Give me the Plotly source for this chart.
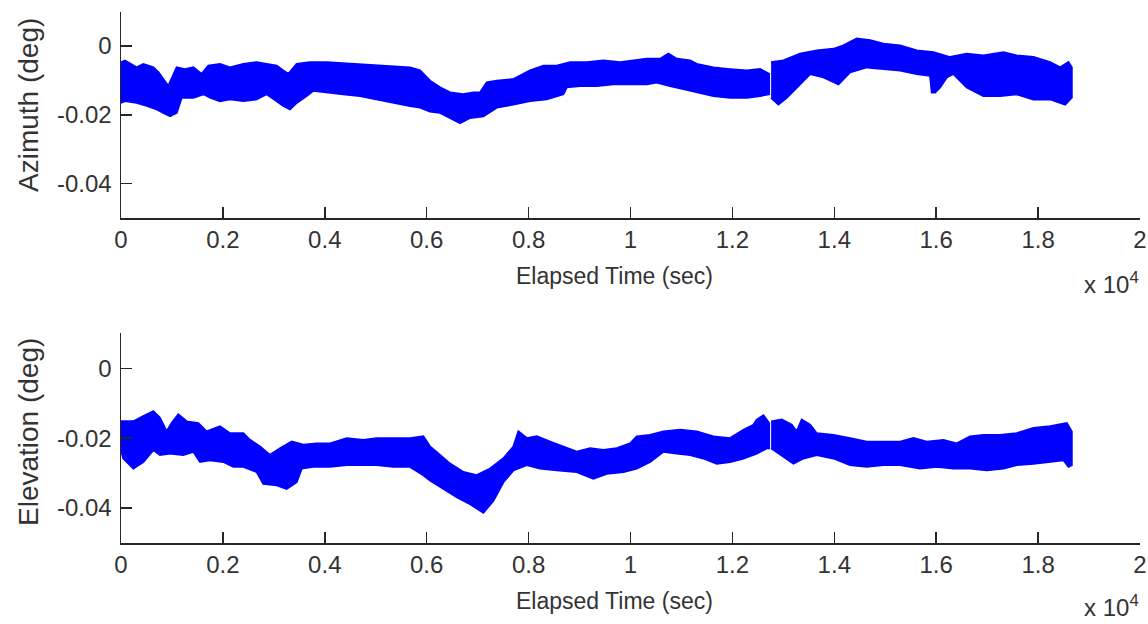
import plotly.graph_objects as go

# ---------------- data ----------------
# time in seconds, angles in degrees; the signal is a dense oscillation,
# represented by its upper and lower envelope
GAP_START = 12720
GAP_END = 12760

az_up_t = [0, 78, 307, 438, 635, 733, 929, 1093, 1256, 1420, 1583, 1714, 1943, 2139, 2401,
           2663, 2859, 3056, 3186, 3285, 3448, 3710, 4037, 4364, 4691, 5018, 5346, 5673, 5869,
           6065, 6262, 6459, 6720, 6917, 7047, 7178, 7375, 7702, 8029, 8291, 8552, 8814, 9141,
           9468, 9796, 10123, 10319, 10581, 10744, 10908, 11170, 11300, 11628, 11955, 12282,
           12543, 12720, 12760, 13001, 13328, 13656, 13983, 14179, 14441, 14702, 14964, 15291,
           15619, 15946, 16273, 16600, 16927, 17320, 17581, 17909, 18236, 18432, 18596, 18660]
az_up = [-0.0047, -0.0042, -0.0062, -0.0052, -0.0062, -0.0076, -0.0116, -0.0062, -0.0067,
         -0.0062, -0.0081, -0.0057, -0.0052, -0.0062, -0.0052, -0.0047, -0.0052, -0.0057,
         -0.0071, -0.0081, -0.0052, -0.0047, -0.0047, -0.0050, -0.0052, -0.0057, -0.0060,
         -0.0062, -0.0071, -0.0101, -0.0120, -0.0135, -0.0140, -0.0135, -0.0135, -0.0106,
         -0.0101, -0.0096, -0.0071, -0.0057, -0.0057, -0.0047, -0.0047, -0.0042, -0.0047,
         -0.0042, -0.0037, -0.0037, -0.0022, -0.0037, -0.0042, -0.0052, -0.0062, -0.0067,
         -0.0071, -0.0067, -0.0081, -0.0047, -0.0042, -0.0022, -0.0013, -0.0008, 0.0002,
         0.0022, 0.0017, 0.0007, 0.0002, -0.0013, -0.0018, -0.0032, -0.0022, -0.0027, -0.0018,
         -0.0027, -0.0032, -0.0047, -0.0062, -0.0047, -0.0062]

az_lo_t = [0, 78, 307, 504, 700, 831, 962, 1093, 1191, 1420, 1616, 1747, 1943, 2139, 2401,
           2663, 2859, 3056, 3186, 3317, 3448, 3644, 3775, 4037, 4364, 4691, 5018, 5346, 5673,
           5869, 6065, 6262, 6459, 6655, 6851, 7113, 7375, 7702, 8029, 8356, 8683, 8749, 9010,
           9338, 9665, 9992, 10319, 10515, 10777, 11039, 11300, 11628, 11955, 12282, 12543,
           12720, 12760, 12903, 13067, 13328, 13525, 13786, 14081, 14310, 14637, 14964, 15291,
           15619, 15880, 15913, 15978, 16077, 16207, 16338, 16600, 16927, 17254, 17581, 17909,
           18236, 18531, 18629, 18660]
az_lo = [-0.0165, -0.0160, -0.0165, -0.0174, -0.0184, -0.0194, -0.0204, -0.0194, -0.0150,
         -0.0150, -0.0140, -0.0150, -0.0160, -0.0155, -0.0160, -0.0155, -0.0140, -0.0160,
         -0.0174, -0.0184, -0.0165, -0.0145, -0.0130, -0.0135, -0.0140, -0.0145, -0.0155,
         -0.0165, -0.0174, -0.0179, -0.0190, -0.0194, -0.0209, -0.0224, -0.0209, -0.0204,
         -0.0179, -0.0170, -0.0160, -0.0155, -0.0140, -0.0120, -0.0116, -0.0116, -0.0111,
         -0.0111, -0.0111, -0.0106, -0.0116, -0.0125, -0.0135, -0.0145, -0.0150, -0.0150,
         -0.0145, -0.0140, -0.0150, -0.0170, -0.0150, -0.0111, -0.0081, -0.0091, -0.0111,
         -0.0076, -0.0062, -0.0067, -0.0071, -0.0081, -0.0086, -0.0135, -0.0135, -0.0120,
         -0.0091, -0.0081, -0.0120, -0.0145, -0.0145, -0.0140, -0.0155, -0.0155, -0.0170,
         -0.0155, -0.0150]

el_up_t = [0, 46, 242, 438, 635, 765, 896, 994, 1125, 1289, 1518, 1681, 1943, 2139, 2401,
           2532, 2728, 2925, 3121, 3350, 3579, 3841, 4102, 4430, 4757, 5018, 5346, 5673, 5934,
           6065, 6262, 6459, 6720, 6982, 7244, 7505, 7702, 7800, 7963, 8160, 8422, 8683, 8945,
           9207, 9468, 9730, 9992, 10123, 10384, 10646, 10973, 11300, 11628, 11955, 12216,
           12413, 12478, 12609, 12720, 12760, 12969, 13165, 13263, 13361, 13525, 13656, 13983,
           14310, 14637, 14964, 15291, 15553, 15815, 16142, 16404, 16665, 16927, 17254, 17581,
           17909, 18236, 18563, 18660]
el_up = [-0.0152, -0.0152, -0.0152, -0.0137, -0.0123, -0.0142, -0.0181, -0.0157, -0.0132,
         -0.0152, -0.0157, -0.0181, -0.0166, -0.0186, -0.0186, -0.0205, -0.0224, -0.0248,
         -0.0229, -0.0210, -0.0219, -0.0215, -0.0215, -0.0200, -0.0205, -0.0200, -0.0200,
         -0.0200, -0.0195, -0.0224, -0.0248, -0.0273, -0.0297, -0.0306, -0.0287, -0.0258,
         -0.0224, -0.0181, -0.0200, -0.0195, -0.0210, -0.0224, -0.0239, -0.0229, -0.0234,
         -0.0229, -0.0215, -0.0195, -0.0191, -0.0181, -0.0176, -0.0181, -0.0195, -0.0200,
         -0.0176, -0.0162, -0.0147, -0.0135, -0.0157, -0.0152, -0.0147, -0.0162, -0.0181,
         -0.0147, -0.0162, -0.0186, -0.0191, -0.0200, -0.0210, -0.0210, -0.0210, -0.0200,
         -0.0210, -0.0205, -0.0215, -0.0195, -0.0191, -0.0191, -0.0186, -0.0171, -0.0166,
         -0.0157, -0.0181]

el_lo_t = [0, 46, 242, 438, 635, 765, 962, 1223, 1420, 1551, 1747, 2009, 2205, 2401, 2663,
           2794, 3056, 3252, 3448, 3546, 3775, 4102, 4430, 4757, 5018, 5346, 5673, 5934, 6065,
           6328, 6589, 6851, 7113, 7309, 7505, 7702, 7963, 8225, 8552, 8945, 9272, 9534, 9861,
           10123, 10384, 10646, 10908, 11170, 11431, 11693, 11955, 12216, 12478, 12674, 12720,
           12760, 13001, 13198, 13394, 13656, 13983, 14310, 14637, 14964, 15291, 15684, 16011,
           16338, 16665, 16992, 17320, 17581, 17909, 18236, 18498, 18596, 18660]
el_lo = [-0.0234, -0.0258, -0.0287, -0.0268, -0.0234, -0.0248, -0.0244, -0.0248, -0.0239,
         -0.0268, -0.0263, -0.0268, -0.0282, -0.0282, -0.0297, -0.0331, -0.0335, -0.0345,
         -0.0326, -0.0287, -0.0282, -0.0282, -0.0277, -0.0277, -0.0277, -0.0282, -0.0282,
         -0.0306, -0.0321, -0.0345, -0.0369, -0.0389, -0.0413, -0.0379, -0.0326, -0.0292,
         -0.0277, -0.0287, -0.0292, -0.0297, -0.0316, -0.0302, -0.0297, -0.0287, -0.0268,
         -0.0239, -0.0244, -0.0248, -0.0258, -0.0273, -0.0268, -0.0258, -0.0244, -0.0229,
         -0.0229, -0.0229, -0.0253, -0.0273, -0.0258, -0.0248, -0.0258, -0.0277, -0.0282,
         -0.0277, -0.0277, -0.0287, -0.0282, -0.0287, -0.0287, -0.0292, -0.0287, -0.0277,
         -0.0273, -0.0268, -0.0263, -0.0282, -0.0277]

x_tickvals = [0, 2000, 4000, 6000, 8000, 10000, 12000, 14000, 16000, 18000, 20000]
x_ticktext = ["0", "0.2", "0.4", "0.6", "0.8", "1", "1.2", "1.4", "1.6", "1.8", "2"]
y_tickvals = [0, -0.02, -0.04]
y_ticktext = ["0", "-0.02", "-0.04"]

# ---------------- figure ----------------
W, H = 1148, 624
BLUE = "#0000FF"
AX = "#262626"
TXT = "#333333"
FONT = "Liberation Sans, Arial, sans-serif"


def band(ut, uv, lt, lv, xa, ya):
    traces = []
    for keep in (lambda t: t <= GAP_START, lambda t: t >= GAP_END):
        u = [(t, v) for t, v in zip(ut, uv) if keep(t)]
        l = [(t, v) for t, v in zip(lt, lv) if keep(t)]
        xs = [p[0] for p in u] + [p[0] for p in reversed(l)]
        ys = [p[1] for p in u] + [p[1] for p in reversed(l)]
        traces.append(go.Scatter(x=xs, y=ys, mode="lines", fill="toself",
                                 fillcolor=BLUE, line=dict(color=BLUE, width=2),
                                 xaxis=xa, yaxis=ya, showlegend=False, hoverinfo="skip"))
    return traces


fig = go.Figure()
for tr in band(az_up_t, az_up, az_lo_t, az_lo, "x", "y"):
    fig.add_trace(tr)
for tr in band(el_up_t, el_up, el_lo_t, el_lo, "x2", "y2"):
    fig.add_trace(tr)

xdom = [121 / W, 1140 / W]
top_dom = [1 - 218 / H, 1 - 11.7 / H]
bot_dom = [1 - 543 / H, 1 - 333.3 / H]

xcommon = dict(range=[0, 20000], tickvals=x_tickvals, ticktext=x_ticktext,
               showline=True, linecolor=AX, linewidth=1.5, ticks="inside", ticklen=11,
               tickwidth=1.5, tickcolor=AX, showgrid=False, zeroline=False, mirror=False,
               tickfont=dict(family=FONT, size=24, color=TXT), automargin=False,
               ticklabelstandoff=0)
ycommon = dict(range=[-0.05, 0.01], tickvals=y_tickvals, ticktext=y_ticktext,
               showline=True, linecolor=AX, linewidth=1.5, ticks="inside", ticklen=11,
               tickwidth=1.5, tickcolor=AX, showgrid=False, zeroline=False, mirror=False,
               tickfont=dict(family=FONT, size=24, color=TXT), automargin=False,
               ticklabelstandoff=3)

fig.update_layout(
    width=W, height=H, template="none",
    paper_bgcolor="white", plot_bgcolor="white",
    margin=dict(l=0, r=0, t=0, b=0),
    showlegend=False,
    xaxis=dict(domain=xdom, anchor="y", **xcommon),
    yaxis=dict(domain=top_dom, anchor="x", **ycommon),
    xaxis2=dict(domain=xdom, anchor="y2", **xcommon),
    yaxis2=dict(domain=bot_dom, anchor="x2", **ycommon),
)

ann = []
for yc, ylab, xl_y, exp_y in ((105, "Azimuth (deg)", 276, 283),
                              (432, "Elevation (deg)", 601, 606)):
    ann.append(dict(text=ylab, x=28 / W, y=1 - yc / H, xref="paper", yref="paper",
                    textangle=-90, showarrow=False, xanchor="center", yanchor="middle",
                    font=dict(family=FONT, size=28, color=TXT)))
    ann.append(dict(text="Elapsed Time (sec)", x=614 / W, y=1 - xl_y / H, xref="paper",
                    yref="paper", showarrow=False, xanchor="center", yanchor="middle",
                    font=dict(family=FONT, size=23, color=TXT)))
    ann.append(dict(text="x 10<sup>4</sup>", x=1141 / W, y=1 - exp_y / H, xref="paper",
                    yref="paper", showarrow=False, xanchor="right", yanchor="middle",
                    font=dict(family=FONT, size=24, color=TXT)))
fig.update_layout(annotations=ann)

fig.write_html("out.html",
               config={"displayModeBar": False, "staticPlot": True},
               post_script="document.body.style.margin='0px';"
                           "document.body.style.overflow='hidden';")
